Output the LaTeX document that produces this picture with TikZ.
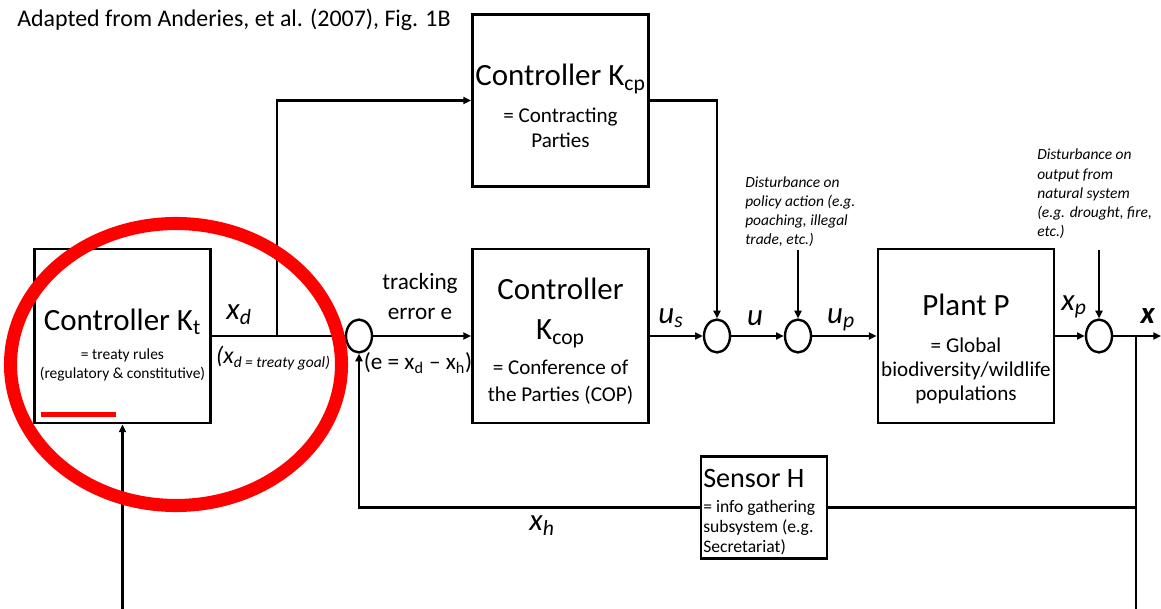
\documentclass[tikz,border=0pt]{standalone}
\usepackage{fontspec}
\setmainfont{Carlito}
\usepackage{tikz}
\usetikzlibrary{arrows.meta,shapes.geometric}
\newcommand{\fsz}[2]{\fontsize{#1}{#2}\selectfont}
\newcommand{\vsub}[2]{\textit{#1}\textsubscript{\textit{#2}}}

\begin{document}
\begin{tikzpicture}[x=0.025cm, y=-0.025cm,
  block/.style={draw, line width=2pt, minimum width=4.4cm, minimum height=4.35cm, inner sep=0pt},
  sumpt/.style={draw, ellipse, line width=1.7pt, minimum width=0.65cm, minimum height=0.82cm, inner sep=0pt},
  wire/.style={line width=1.6pt},
  sig/.style={wire, -{Triangle[length=5.5pt,width=5pt]}},
  lbl/.style={inner sep=0pt, font=\fsz{22}{26}},
  note/.style={anchor=base west, align=left, inner sep=0pt, font=\fsz{11}{13.7}\itshape}]
\useasboundingbox (0,0) rectangle (1161,609);
\node[anchor=west, inner sep=0pt, font=\fsz{17}{20}] (ttl) at (17,20) {Adapted from Anderies, et al. (2007), Fig. 1B};
% blocks
\node[block] (kt) at (122.5,336) {};
\node[block, minimum height=4.3cm] (kcp) at (560.5,100.5) {};
\node[block] (kcop) at (560.5,336) {};
\node[block] (pl) at (966,336) {};
\node[block, minimum width=3.15cm, minimum height=2.55cm] (sen) at (764,507.5) {};
\node[anchor=base, align=center, inner sep=0pt, font=\fsz{11}{13.5}] (kttxt) at (122.5,378)
  {{\fsz{22}{26}Controller K\textsubscript{t}}\\[7pt] = treaty rules\\ (regulatory \& constitutive)};
\node[anchor=base, align=center, inner sep=0pt, font=\fsz{15}{17.8}] (kcptxt) at (560.5,148)
  {{\fsz{22}{26}Controller K\textsubscript{cp}}\\[8.5pt] = Contracting\\ Parties};
\node[anchor=base, align=center, inner sep=0pt, font=\fsz{15}{18.5}] (koptxt) at (560.5,401)
  {{\fsz{22}{26}Controller}\\[10.5pt] {\fsz{22}{26}K\textsubscript{cop}}\\[6.5pt] = Conference of\\ the Parties (COP)};
\node[anchor=base, align=center, inner sep=0pt, font=\fsz{15}{17}] (pltxt) at (966,400)
  {{\fsz{22}{26}Plant P}\\[9pt] = Global\\ biodiversity/wildlife\\ populations};
\node[anchor=base west, align=left, inner sep=0pt, font=\fsz{12.5}{14.2}] (sentxt) at (703,552)
  {{\fsz{20}{22}Sensor H}\\[3.6pt] = info gathering\\ subsystem (e.g.\\ Secretariat)};
% summing points
\node[sumpt] (sum1) at (359,336) {};
\node[sumpt] (sum2) at (717,336) {};
\node[sumpt] (sum3) at (798,336) {};
\node[sumpt] (sum4) at (1099,336) {};
% disturbances
\node[note] (dst1) at (745,245) {Disturbance on\\policy action (e.g.\\poaching, illegal\\trade, etc.)};
\node[note] (dst2) at (1037,237) {Disturbance on\\output from\\natural system\\(e.g. drought, fire,\\etc.)};
\coordinate (d1) at (798,250);
\coordinate (d2) at (1099,250);
\coordinate (br) at (277,336);
\coordinate (xb) at (1136,336);
\coordinate (xo) at (1161,336);
\coordinate (xe) at (1136,609);
\coordinate (kin) at (122.5,609);
% signal labels
\node[lbl] (lxd) at (239,315) {\vsub{x}{d}};
\node[inner sep=0pt] (lgoal) at (273,358) {\fsz{17}{20}\textit{(x}\fsz{11}{13}\raisebox{-3pt}{\textit{d = treaty goal)}}};
\node[anchor=base, align=center, inner sep=0pt, font=\fsz{16.5}{22}] (ltrk) at (420,320) {tracking\\error e};
\node[inner sep=0pt, font=\fsz{16.5}{20}] (lerr) at (418,363) {(e = x\textsubscript{d} -- x\textsubscript{h})};
\node[lbl] (lus) at (671,318) {\vsub{u}{s}};
\node[lbl] (lu) at (755,318) {\textit{u}};
\node[lbl] (lup) at (841,320) {\vsub{u}{p}};
\node[lbl] (lxp) at (1074,307) {\vsub{x}{p}};
\node[lbl] (lx) at (1148,316) {\textbf{\textit{x}}};
\node[lbl] (lxh) at (542,526) {\vsub{x}{h}};
% connectors
\draw[wire] (kt.east) -- (sum1.west);
\draw[sig] (br) |- (kcp.west);
\draw[sig] (kcp.east) -| (sum2.north);
\draw[sig] (sum1.east) -- (kcop.west);
\draw[sig] (kcop.east) -- (sum2.west);
\draw[sig] (sum2.east) -- (sum3.west);
\draw[sig] (d1) -- (sum3.north);
\draw[sig] (sum3.east) -- (pl.west);
\draw[sig] (pl.east) -- (sum4.west);
\draw[sig] (d2) -- (sum4.north);
\draw[sig] (sum4.east) -- (xo);
\draw[wire] (xb) -- (xe);
\draw[wire] (sen.east) -- (sen.east -| xb);
\draw[sig] (sen.west) -| (sum1.south);
\draw[sig] (kin) -- (kt.south);
% red marks
\draw[red, line width=9.3pt] (176,364.5) ellipse [x radius=165.5, y radius=141];
\draw[red, line width=3.6pt] (41,414.5) -- (116,414.5);
\end{tikzpicture}
\end{document}
